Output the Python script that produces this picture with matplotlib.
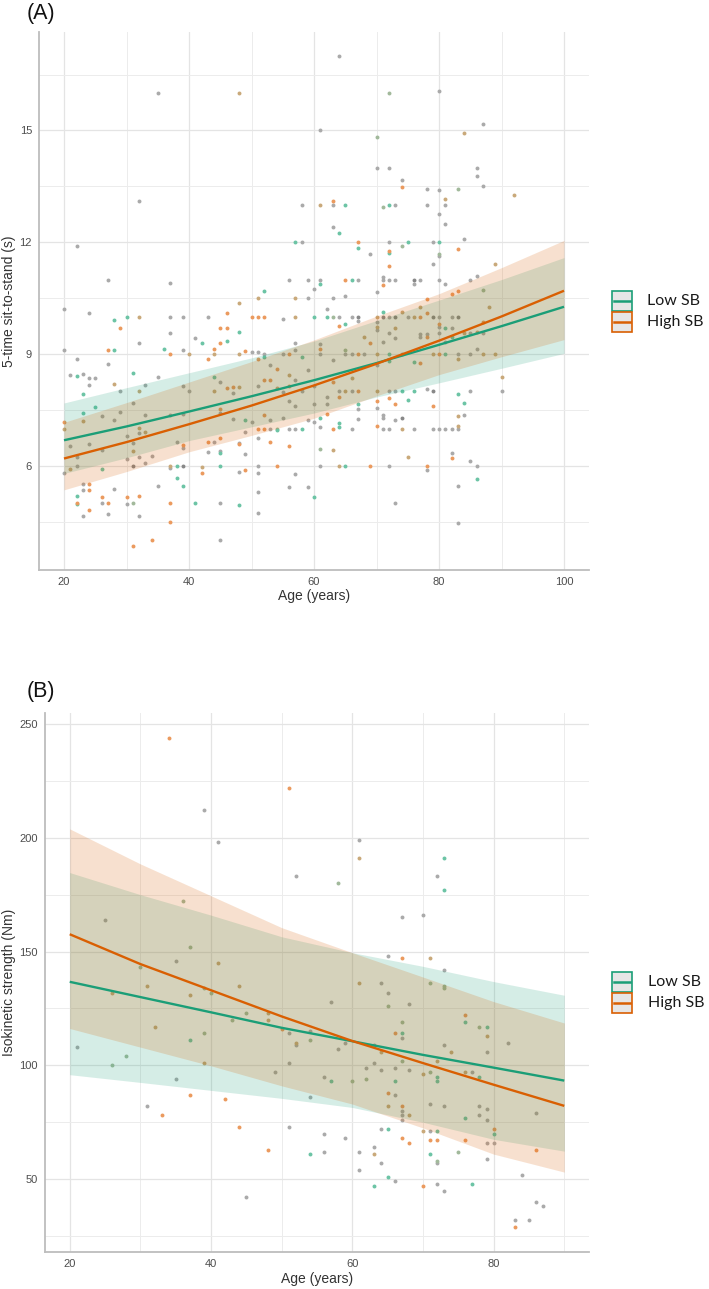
import matplotlib
matplotlib.use("Agg")
import matplotlib.pyplot as plt
from matplotlib.patches import Rectangle
from matplotlib.lines import Line2D

# ---------------- DATA ----------------
# Panel A: 5-time sit-to-stand (s) vs age; point class code:
# g=grey, l=Low SB, h=High SB, t=tan (overlap high/grey), o=olive (overlap low/grey), d=dark grey
a_points = [
    (64,17.0,'g'),(35,16.0,'g'),(48,16.0,'t'),(61,15.0,'g'),(32,13.1,'g'),(58,13.0,'g'),(61,13.0,'t'),
    (63,13.1,'h'),(63,13.0,'g'),(65,13.0,'l'),(63,12.4,'g'),(64,12.26,'l'),(57,12.0,'l'),(58,12.0,'g'),
    (67,12.0,'h'),(67,11.85,'l'),(22,11.9,'g'),(27,11.0,'g'),(37,10.9,'g'),(56,11.0,'g'),(59,11.0,'g'),
    (61,11.0,'g'),(61,10.88,'l'),(65,11.0,'h'),(66,11.0,'l'),(67,11.0,'g'),(60,10.75,'g'),(52,10.7,'l'),
    (59,10.5,'g'),(63,10.5,'g'),(65,10.55,'g'),(51,10.5,'t'),(57,10.5,'t'),
    (72,16.0,'o'),(80,16.05,'g'),(70,14.82,'o'),(87,15.17,'g'),(84,14.92,'t'),(70,14.0,'g'),(72,14.0,'g'),
    (86,14.0,'g'),(86,13.77,'g'),(87,13.52,'g'),(74,13.66,'g'),(74,13.49,'h'),(92,13.28,'t'),(78,13.43,'g'),
    (80,13.4,'g'),(81,13.15,'t'),(81,13.0,'g'),(78,13.0,'g'),(83,13.42,'o'),(71,12.94,'o'),(72,13.0,'l'),
    (73,13.0,'g'),(80,12.77,'g'),(81,12.5,'g'),(84,12.08,'g'),(72,12.0,'g'),(75,12.0,'l'),(79,12.0,'g'),
    (80,12.0,'l'),(69,11.69,'g'),(72,11.77,'h'),(72,11.72,'l'),(74,11.89,'o'),(72,11.36,'h'),(83,11.81,'h'),
    (80,11.68,'o'),(80,11.62,'g'),(79,11.43,'g'),(89,11.41,'t'),(71,11.0,'g'),(72,11.0,'g'),(73,11.0,'g'),
    (76,11.0,'d'),(77,11.0,'g'),(80,11.0,'g'),(71,11.08,'g'),(71,10.85,'h'),(76,10.87,'g'),(81,10.88,'g'),
    (85,11.0,'g'),(86,11.1,'g'),(87,10.71,'o'),(70,10.67,'g'),(82,10.6,'h'),(83,10.7,'h'),(78,10.47,'h'),
    (20,10.2,'g'),(24,10.1,'g'),(20,9.12,'g'),(28,9.91,'l'),(30,10.0,'l'),(32,10.0,'t'),(29,9.71,'h'),
    (32,9.3,'g'),(37,10.0,'g'),(39,10.0,'g'),(37,9.57,'g'),(43,10.0,'g'),(41,9.42,'g'),(42,9.3,'l'),
    (46,10.09,'h'),(45,9.69,'h'),(46,9.7,'h'),(48,10.36,'t'),(48,9.6,'l'),(46,9.34,'l'),(45,9.29,'h'),
    (36,9.15,'l'),(39,9.1,'g'),(40,9.0,'t'),(37,9.0,'h'),(27,9.1,'h'),(28,9.12,'l'),(44,9.15,'h'),
    (43,8.87,'h'),(44,9.0,'t'),(48,9.0,'t'),(49,9.09,'h'),(50,9.06,'g'),(51,9.06,'g'),(50,10.0,'h'),
    (51,10.0,'h'),(52,10.0,'h'),(55,9.95,'g'),(57,10.0,'t'),(60,10.0,'l'),(62,10.0,'l'),(63,10.0,'o'),
    (64,10.0,'g'),(66,10.0,'g'),(67,10.0,'d'),(62,10.2,'g'),(64,9.75,'h'),(65,9.8,'l'),(67,9.9,'g'),
    (61,9.27,'g'),(61,9.13,'h'),(63,8.84,'g'),(57,9.31,'g'),(57,9.1,'g'),(56,9.0,'h'),(58,8.93,'l'),
    (61,9.0,'g'),(65,9.0,'g'),(66,9.0,'g'),(67,9.0,'h'),(65,9.12,'o'),(55,9.0,'g'),(52,8.93,'l'),
    (52,9.0,'g'),(51,8.88,'h'),(53,8.7,'g'),(54,8.6,'h'),(56,8.44,'t'),(59,8.57,'g'),(53,8.3,'h'),
    (52,8.3,'h'),(51,8.15,'g'),(56,8.15,'h'),(57,8.3,'g'),(55,7.99,'g'),(54,8.08,'t'),(58,8.0,'g'),
    (60,8.15,'g'),(63,8.26,'h'),(62,7.86,'g'),(64,7.86,'h'),(65,8.0,'t'),(66,8.0,'g'),(66,8.37,'t'),
    (67,8.0,'h'),(64,8.0,'g'),(60,7.65,'g'),(62,7.65,'g'),(67,7.65,'l'),(67,7.53,'g'),(57,7.6,'g'),
    (56,7.75,'g'),(60,7.19,'g'),(59,7.23,'g'),(61,7.28,'l'),(61,7.05,'g'),(62,7.4,'h'),(63,7.0,'h'),
    (64,7.14,'l'),(64,7.04,'l'),(66,7.0,'g'),(67,7.26,'g'),(54,7.0,'o'),(55,7.28,'g'),(56,7.0,'g'),
    (57,7.0,'g'),(58,7.0,'l'),(51,7.0,'h'),(52,7.0,'h'),(53,7.0,'g'),(54,6.96,'l'),(50,7.19,'g'),
    (49,7.23,'l'),(52,7.37,'h'),(53,7.23,'g'),(51,6.74,'g'),(53,6.63,'h'),(47,7.26,'g'),(48,6.6,'h'),
    (48,6.62,'g'),(49,6.92,'g'),(45,7.41,'g'),(45,7.54,'h'),(43,6.65,'h'),(45,6.74,'h'),(44,6.65,'g'),
    (43,6.37,'g'),(45,6.4,'g'),(45,6.34,'l'),(47,7.95,'g'),(44,8.0,'t'),(45,8.26,'g'),(46,8.1,'h'),
    (47,8.12,'h'),(48,8.12,'t'),(44,8.39,'l'),(40,8.0,'g'),(39,8.14,'g'),(35,8.39,'g'),(33,8.17,'g'),
    (32,8.0,'t'),(31,8.5,'l'),(29,8.0,'g'),(28,8.21,'t'),(27,8.73,'g'),(22,8.86,'g'),(21,8.44,'g'),
    (22,8.41,'l'),(23,8.48,'g'),(24,8.35,'g'),(24,8.17,'g'),(25,8.35,'g'),(23,7.93,'l'),(25,7.59,'l'),
    (31,7.68,'g'),(23,7.41,'l'),(23,7.21,'t'),(20,7.19,'h'),(20,7.0,'t'),(26,7.34,'g'),(28,7.23,'g'),
    (29,7.44,'g'),(30,6.8,'g'),(31,6.61,'g'),(32,6.88,'g'),(32,7.02,'t'),(33,7.37,'g'),(33,6.92,'t'),
    (37,7.37,'g'),(39,7.39,'g'),(38,6.63,'g'),(39,6.56,'h'),(39,6.47,'g'),(21,6.54,'g'),(24,6.58,'g'),
    (26,6.43,'g'),(22,6.25,'g'),(31,6.4,'t'),(30,6.2,'g'),(32,6.25,'g'),(22,6.0,'g'),(21,5.91,'t'),
    (20,5.8,'g'),(26,5.91,'l'),(31,6.0,'d'),(33,6.07,'g'),(34,6.26,'g'),(37,6.0,'t'),(37,5.94,'g'),
    (38,6.0,'l'),(39,6.0,'d'),(42,5.96,'t'),(42,5.8,'h'),(45,6.0,'l'),(38,5.67,'l'),(39,5.45,'l'),
    (35,5.45,'g'),(48,5.85,'g'),(49,5.89,'h'),(51,5.8,'g'),(51,6.0,'g'),(23,5.52,'g'),(23,5.36,'g'),
    (24,5.51,'h'),(24,5.36,'h'),(22,5.2,'l'),(22,5.02,'h'),(22,4.97,'l'),(26,5.18,'h'),(26,5.02,'g'),
    (27,5.02,'h'),(28,5.38,'g'),(30,5.16,'h'),(30,4.98,'g'),(31,5.02,'o'),(32,5.2,'h'),(23,4.67,'g'),
    (24,4.82,'h'),(27,4.71,'g'),(32,4.66,'g'),(37,5.02,'h'),(37,4.51,'h'),(41,5.02,'l'),(45,5.02,'g'),
    (48,4.94,'l'),(45,4.02,'g'),(31,3.86,'h'),(34,4.02,'h'),(49,6.32,'g'),(51,5.31,'g'),(51,4.73,'g'),
    (57,5.79,'g'),(56,5.43,'g'),(59,5.43,'g'),(60,5.16,'l'),(61,6.0,'g'),(61,6.45,'o'),(63,6.43,'t'),
    (64,6.0,'t'),(65,6.0,'l'),(56,6.54,'h'),(54,6.0,'h'),
    (70,10.0,'t'),(71,10.0,'d'),(72,10.0,'g'),(73,10.0,'d'),(75,10.0,'g'),(76,10.0,'t'),(77,10.0,'h'),
    (79,10.0,'d'),(80,10.0,'g'),(82,10.0,'g'),(83,10.0,'d'),(78,10.09,'h'),(71,10.13,'l'),(70,9.87,'g'),
    (70,9.73,'t'),(70,9.64,'g'),(68,9.46,'t'),(69,9.3,'h'),(71,9.33,'g'),(72,9.58,'g'),(73,9.71,'t'),
    (73,9.42,'g'),(74,10.13,'t'),(77,10.27,'t'),(77,9.55,'g'),(77,9.45,'g'),(78,9.55,'g'),
    (78,9.45,'h'),(80,9.82,'h'),(80,9.73,'g'),(81,9.7,'l'),(82,9.69,'g'),(80,9.57,'g'),(81,9.33,'g'),
    (82,9.46,'l'),(84,9.58,'t'),(85,9.58,'g'),(86,9.6,'t'),(87,9.58,'g'),(88,10.27,'t'),(87,9.87,'h'),
    (86,9.13,'g'),(68,9.0,'g'),(70,9.0,'t'),(72,9.0,'l'),(74,9.0,'g'),(79,9.0,'t'),(80,9.0,'h'),
    (81,9.0,'l'),(83,9.0,'g'),(85,9.0,'g'),(87,9.0,'t'),(89,9.0,'t'),(70,8.7,'g'),(72,8.81,'l'),
    (76,8.79,'l'),(77,8.75,'h'),(83,8.88,'t'),(90,8.38,'t'),(70,8.0,'t'),(72,8.0,'g'),(73,8.0,'g'),
    (74,8.0,'l'),(76,8.0,'l'),(79,8.0,'d'),(90,8.0,'g'),(78,8.07,'g'),(85,8.0,'g'),(83,7.93,'l'),
    (70,7.74,'h'),(72,7.83,'h'),(73,7.65,'h'),(75,7.77,'l'),(79,7.62,'h'),(83,7.35,'t'),(84,7.38,'g'),
    (84,7.7,'l'),(70,7.56,'g'),(71,7.37,'g'),(71,7.28,'g'),(73,7.23,'g'),(74,7.3,'d'),(70,7.06,'h'),
    (71,7.0,'g'),(72,7.0,'g'),(74,7.0,'t'),(76,7.0,'g'),(79,7.0,'g'),(80,7.0,'g'),(81,7.0,'g'),
    (82,7.0,'g'),(83,7.0,'g'),(83,7.06,'t'),(75,6.25,'t'),(82,6.36,'g'),(82,6.22,'h'),(85,6.14,'g'),
    (69,6.0,'h'),(72,6.0,'g'),(78,6.0,'h'),(78,5.88,'g'),(86,6.0,'g'),(86,5.65,'l'),(73,5.01,'g'),
    (83,5.46,'g'),(83,4.46,'g'),
]

# Panel A fitted curves and confidence bands, read at these ages
a_fit_age = [20, 30, 40, 50, 60, 70, 80, 90, 100]
a_low_fit = [6.69, 7.06, 7.46, 7.87, 8.30, 8.76, 9.25, 9.75, 10.27]
a_low_lo  = [5.80, 6.22, 6.68, 7.05, 7.42, 7.85, 8.23, 8.62, 9.02]
a_low_hi  = [7.69, 8.10, 8.50, 8.90, 9.35, 9.90, 10.45, 11.00, 11.59]
a_high_fit = [6.20, 6.64, 7.12, 7.62, 8.16, 8.74, 9.36, 10.01, 10.70]
a_high_lo  = [5.36, 5.85, 6.38, 6.82, 7.28, 7.88, 8.45, 8.93, 9.39]
a_high_hi  = [7.17, 7.70, 8.25, 8.80, 9.38, 10.02, 10.62, 11.32, 12.05]

# Panel B: isokinetic strength (Nm) vs age
b_points = [
    (34,244,'h'),(51,222,'h'),(39,212,'g'),(41,198,'g'),(61,199,'g'),(61,191,'t'),(52,183,'g'),(58,180,'o'),
    (36,172,'o'),(25,164,'g'),(37,152,'o'),(35,146,'g'),(41,145,'t'),(30,143,'o'),(26,132,'t'),(31,135,'t'),
    (37,131,'t'),(39,134,'o'),(40,132,'o'),(44,135,'t'),(45,123,'o'),(43,120,'o'),(48,123,'t'),(48,120,'t'),
    (32,117,'t'),(39,114,'o'),(37,111,'l'),(50,116,'h'),(51,114,'g'),(52,110,'t'),(52,109,'g'),(54,111,'o'),
    (54,115,'g'),(57,128,'g'),(58,107,'g'),(59,110,'g'),(61,136,'t'),(21,108,'g'),(28,104,'o'),(26,100,'o'),
    (39,101,'t'),(51,101,'g'),(35,94,'g'),(49,97,'g'),(56,95,'g'),(57,93,'l'),(60,93,'o'),(54,86,'g'),
    (37,87,'h'),(42,85,'h'),(31,82,'g'),(33,78,'h'),(44,73,'h'),(51,73,'g'),(56,70,'g'),(59,68,'g'),
    (48,63,'h'),(54,61,'l'),(56,62,'g'),(61,62,'g'),(61,54,'g'),(45,42,'g'),
    (65,148,'g'),(67,147,'h'),(71,147,'t'),(73,142,'g'),(64,136,'g'),(65,132,'g'),(71,136,'o'),(73,135,'o'),
    (73,134,'o'),(65,126,'o'),(68,127,'g'),(67,119,'o'),(76,122,'h'),(76,119,'l'),(78,117,'o'),(79,117,'l'),
    (79,113,'t'),(82,110,'g'),(66,114,'h'),(67,114,'l'),(67,112,'g'),(63,109,'g'),(64,106,'t'),(74,106,'t'),
    (73,109,'g'),(67,102,'o'),(72,102,'t'),(62,99,'g'),(62,94,'o'),(63,101,'g'),(64,98,'g'),(66,99,'g'),
    (68,98,'g'),(66,93,'l'),(70,96,'t'),(71,97,'o'),(72,95,'l'),(72,93,'l'),(76,97,'t'),(77,97,'g'),
    (78,95,'l'),(79,106,'g'),(65,88,'h'),(66,87,'g'),(65,82,'t'),(67,82,'h'),(67,80,'g'),(67,78,'g'),
    (67,76,'g'),(68,78,'t'),(71,83,'g'),(73,82,'g'),(76,77,'l'),(78,82,'g'),(78,78,'g'),(79,81,'g'),
    (79,76,'g'),(80,72,'h'),(80,70,'l'),(64,72,'g'),(65,72,'l'),(70,71,'t'),(71,71,'g'),(72,71,'l'),
    (67,68,'h'),(68,66,'h'),(71,67,'h'),(72,67,'h'),(76,67,'h'),(79,66,'g'),(80,66,'g'),(86,79,'g'),
    (86,63,'h'),(63,64,'g'),(63,61,'t'),(64,57,'g'),(71,61,'l'),(72,58,'o'),(72,57,'g'),(75,62,'o'),
    (79,59,'g'),(65,51,'l'),(66,49,'g'),(63,47,'l'),(70,47,'h'),(72,48,'g'),(73,45,'g'),(77,48,'l'),
    (84,52,'g'),(86,40,'g'),(87,38,'g'),(83,32,'g'),(85,32,'g'),(83,29,'h'),
    (73,191,'l'),(72,183,'g'),(73,177,'l'),(67,165,'g'),(70,166,'g'),
]

b_fit_age = [20, 30, 40, 50, 60, 70, 80, 90]
b_low_fit = [136.7, 130.0, 123.3, 116.5, 110.6, 104.6, 99.0, 93.3]
b_low_lo  = [95.9, 92.5, 89.0, 85.5, 81.5, 75.0, 67.5, 62.3]
b_low_hi  = [184.7, 175.0, 166.0, 156.5, 149.5, 143.5, 136.8, 130.8]
b_high_fit = [157.6, 144.5, 133.0, 121.5, 110.7, 101.0, 91.5, 82.2]
b_high_lo  = [116.2, 108.0, 99.8, 91.0, 83.0, 72.5, 61.0, 53.1]
b_high_hi  = [203.9, 188.5, 174.5, 160.5, 149.5, 138.8, 128.0, 118.6]

legend_labels = ["Low SB", "High SB"]
a_xticks = [20, 40, 60, 80, 100]
a_yticks = [6, 9, 12, 15]
b_xticks = [20, 40, 60, 80]
b_yticks = [50, 100, 150, 200, 250]

# ---------------- STYLE ----------------
LOW = '#1b9e77'
HIGH = '#d95f02'
pt_colors = {'g': '#aaaaaa', 'l': '#6cc4a5', 'h': '#eb9a5e',
             't': '#c9a97a', 'o': '#a2b99b', 'd': '#888888'}

W, H = 709, 1289
fig = plt.figure(figsize=(W / 100, H / 100), dpi=100)
plt.rcParams['font.family'] = ['Liberation Sans', 'DejaVu Sans']


def fx(px):
    return px / W


def fy(py):
    return 1 - py / H


def style_axes(ax, xlim, ylim, xticks, yticks, xminor, yminor):
    ax.set_xlim(*xlim)
    ax.set_ylim(*ylim)
    ax.set_xticks(xticks)
    ax.set_yticks(yticks)
    ax.set_xticks(xminor, minor=True)
    ax.set_yticks(yminor, minor=True)
    ax.grid(True, which='major', color='#e4e4e4', lw=0.9, zorder=0)
    ax.grid(True, which='minor', color='#ececec', lw=0.7, zorder=0)
    ax.set_axisbelow(True)
    for s in ['top', 'right']:
        ax.spines[s].set_visible(False)
    for s in ['left', 'bottom']:
        ax.spines[s].set_color('#bdbdbd')
        ax.spines[s].set_linewidth(1.3)
    ax.tick_params(which='both', length=0, labelsize=8, labelcolor='#4d4d4d', pad=5)


def draw_points(ax, pts):
    for code in ['g', 'd', 'o', 't', 'l', 'h']:
        xs = [p[0] for p in pts if p[2] == code]
        ys = [p[1] for p in pts if p[2] == code]
        ax.scatter(xs, ys, s=8, color=pt_colors[code], linewidths=0, zorder=2)


def draw_fits(ax, age, lf, llo, lhi, hf, hlo, hhi):
    ax.fill_between(age, llo, lhi, color=LOW, alpha=0.18, linewidth=0, zorder=3)
    ax.fill_between(age, hlo, hhi, color=HIGH, alpha=0.19, linewidth=0, zorder=3)
    ax.plot(age, lf, color=LOW, lw=1.7, zorder=4, solid_capstyle='butt')
    ax.plot(age, hf, color=HIGH, lw=1.7, zorder=4, solid_capstyle='butt')


def draw_legend(y_top, text_x):
    for i, (lab, col) in enumerate(zip(legend_labels, [LOW, HIGH])):
        top = y_top + i * 21
        fig.add_artist(Rectangle((fx(612), fy(top + 20)), 20 / W, 20 / H,
                                 transform=fig.transFigure, facecolor='#e6e6e6',
                                 edgecolor=col, lw=1.2))
        fig.add_artist(Line2D([fx(614), fx(630)], [fy(top + 10)] * 2,
                              transform=fig.transFigure, color=col, lw=1.8))
        fig.text(fx(text_x), fy(top + 10), lab, fontsize=11.5, family=['Lato', 'DejaVu Sans'],
                 color='#1a1a1a', va='center', ha='left')


# Panel A
axA = fig.add_axes([fx(39), fy(570), (589 - 39) / W, (570 - 32) / H])
style_axes(axA, (16.0, 104.0), (3.21, 17.64), a_xticks, a_yticks,
           [30, 50, 70, 90], [4.5, 7.5, 10.5, 13.5, 16.5])
draw_points(axA, a_points)
draw_fits(axA, a_fit_age, a_low_fit, a_low_lo, a_low_hi, a_high_fit, a_high_lo, a_high_hi)
fig.text(fx(314), fy(596), "Age (years)", fontsize=10, ha='center', va='center', color='#333333')
fig.text(fx(9), fy(301), "5-time sit-to-stand (s)", fontsize=10, rotation=90,
         ha='center', va='center', color='#333333')
fig.text(fx(27), fy(14), "(A)", fontsize=15.5, ha='left', va='center', color='#111111')
draw_legend(291, 647)

# Panel B
axB = fig.add_axes([fx(45), fy(1252), (589 - 45) / W, (1252 - 713) / H])
style_axes(axB, (16.5, 93.5), (18.0, 254.8), b_xticks, b_yticks,
           [30, 50, 70, 90], [25, 75, 125, 175, 225])
draw_points(axB, b_points)
draw_fits(axB, b_fit_age, b_low_fit, b_low_lo, b_low_hi, b_high_fit, b_high_lo, b_high_hi)
fig.text(fx(317), fy(1279), "Age (years)", fontsize=10, ha='center', va='center', color='#333333')
fig.text(fx(9), fy(982), "Isokinetic strength (Nm)", fontsize=10, rotation=90,
         ha='center', va='center', color='#333333')
fig.text(fx(27), fy(692), "(B)", fontsize=15.5, ha='left', va='center', color='#111111')
draw_legend(972, 648)

fig.savefig("out.png", dpi=100)
